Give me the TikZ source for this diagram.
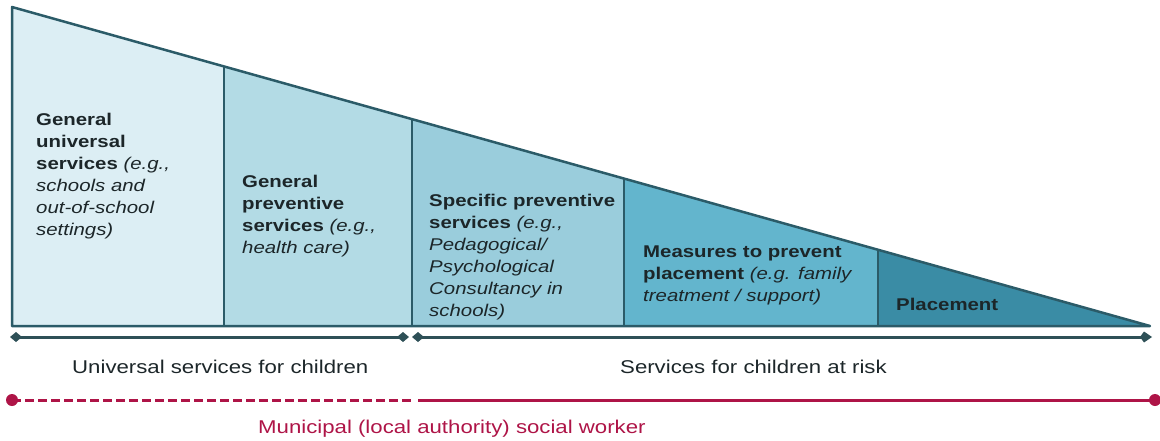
\documentclass[tikz,border=0pt]{standalone}
\usepackage{fontspec}
\setmainfont[FakeStretch=1.2]{Liberation Sans}
\usetikzlibrary{arrows.meta}
\definecolor{cA}{HTML}{DCEEF4}
\definecolor{cB}{HTML}{B3DBE5}
\definecolor{cC}{HTML}{9ACDDC}
\definecolor{cD}{HTML}{63B5CD}
\definecolor{cE}{HTML}{3A8CA5}
\definecolor{edge}{HTML}{2B5B68}
\definecolor{axis}{HTML}{2E5057}
\definecolor{crim}{HTML}{AE1447}
\definecolor{ink}{HTML}{1C2629}
\tikzset{
  region/.style={draw=edge, line width=2.5pt, line join=round},
  boxtext/.style={anchor=north west, inner sep=0pt, align=left, text=ink,
    font=\fontsize{17}{22}\selectfont},
  lbl/.style={anchor=north west, inner sep=0pt, text=ink,
    font=\fontsize{18.5}{22}\selectfont},
  axisline/.style={draw=axis, line width=3pt},
  redline/.style={draw=crim, line width=3pt},
  dot/.style={circle, fill=crim, inner sep=0pt, minimum size=12pt},
  dtip/.tip={Diamond[length=12pt,width=10pt]},
}
\begin{document}
\begin{tikzpicture}[x=1pt,y=-1pt]
\useasboundingbox (0,0) rectangle (1160,440);
% triangle geometry
\coordinate (TL) at (12,7);
\coordinate (BL) at (12,326);
\coordinate (tip) at (1150,326);
\coordinate (t1) at (224,66.4);   \coordinate (b1) at (224,326);
\coordinate (t2) at (412,119.1);  \coordinate (b2) at (412,326);
\coordinate (t3) at (624,178.6);  \coordinate (b3) at (624,326);
\coordinate (t4) at (878,249.8);  \coordinate (b4) at (878,326);
\fill[cA] (TL) -- (t1) -- (b1) -- (BL) -- cycle;
\fill[cB] (t1) -- (t2) -- (b2) -- (b1) -- cycle;
\fill[cC] (t2) -- (t3) -- (b3) -- (b2) -- cycle;
\fill[cD] (t3) -- (t4) -- (b4) -- (b3) -- cycle;
\fill[cE] (t4) -- (tip) -- (b4) -- cycle;
\draw[region] (TL) -- (tip) -- (BL) -- cycle;
\draw[region] (t1) -- (b1);
\draw[region] (t2) -- (b2);
\draw[region] (t3) -- (b3);
\draw[region] (t4) -- (b4);
% texts in regions
\node[boxtext] (r1) at (36,113) {\textbf{General}\\\textbf{universal}\\\textbf{services} \textit{(e.g.,}\\\textit{schools and}\\\textit{out-of-school}\\\textit{settings)}};
\node[boxtext] (r2) at (242,175) {\textbf{General}\\\textbf{preventive}\\\textbf{services} \textit{(e.g.,}\\\textit{health care)}};
\node[boxtext] (r3) at (429,194) {\textbf{Specific preventive}\\\textbf{services} \textit{(e.g.,}\\\textit{Pedagogical/}\\\textit{Psychological}\\\textit{Consultancy in}\\\textit{schools)}};
\node[boxtext] (r4) at (643,246) {\textbf{Measures to prevent}\\\textbf{placement} \textit{(e.g. family}\\\textit{treatment / support)}};
\node[boxtext] (r5) at (896,298) {\textbf{Placement}};
% axis arrows
\coordinate (a0) at (10,337);
\coordinate (a1) at (409,337);
\coordinate (a2) at (412,337);
\coordinate (a3) at (1152,337);
\draw[axisline, dtip-dtip] (a0) -- (a1);
\draw[axisline, dtip-{Kite[length=12pt,width=11pt,inset=4pt]}] (a2) -- (a3);
\node[lbl] (u) at (72,360) {Universal services for children};
\node[lbl] (s) at (620,360) {Services for children at risk};
% red line
\node[dot] (d0) at (12,400) {};
\node[dot] (d1) at (1155,400) {};
\coordinate (m1) at (411,400);
\coordinate (m2) at (418,400);
\draw[redline, dash pattern=on 9pt off 4pt] (d0.center) -- (m1);
\draw[redline] (m2) -- (d1.center);
\node[lbl, text=crim] (sw) at (258,420) {Municipal (local authority) social worker};
\end{tikzpicture}
\end{document}
